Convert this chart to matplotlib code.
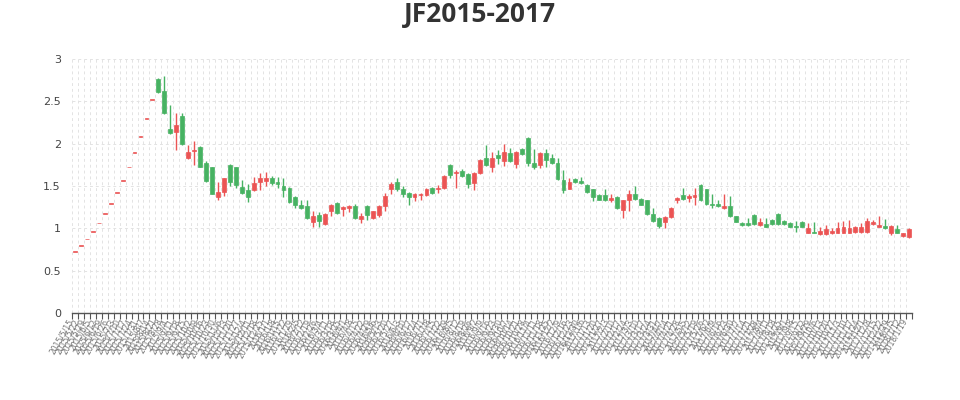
import matplotlib
matplotlib.use('Agg')
import matplotlib.pyplot as plt
import numpy as np
import pandas as pd

# weekly OHLC values
opens = [0.72, 0.79, 0.87, 0.96, 1.06, 1.17, 1.29, 1.42, 1.56, 1.72,
         1.89, 2.08, 2.29, 2.52, 2.76, 2.62, 2.17, 2.14, 2.33, 1.83,
         1.91, 1.96, 1.77, 1.72, 1.37, 1.43, 1.75, 1.72, 1.49, 1.45,
         1.45, 1.55, 1.56, 1.59, 1.55, 1.50, 1.48, 1.37, 1.28, 1.26,
         1.08, 1.16, 1.05, 1.20, 1.30, 1.23, 1.24, 1.26, 1.11, 1.26,
         1.12, 1.16, 1.26, 1.47, 1.55, 1.46, 1.42, 1.37, 1.39, 1.39,
         1.48, 1.46, 1.48, 1.75, 1.65, 1.68, 1.64, 1.54, 1.65, 1.83,
         1.73, 1.87, 1.79, 1.89, 1.76, 1.94, 2.07, 1.77, 1.75, 1.89,
         1.83, 1.77, 1.57, 1.47, 1.58, 1.56, 1.51, 1.46, 1.39, 1.39,
         1.34, 1.37, 1.22, 1.33, 1.40, 1.35, 1.33, 1.17, 1.12, 1.07,
         1.13, 1.34, 1.39, 1.36, 1.37, 1.51, 1.46, 1.29, 1.29, 1.24,
         1.26, 1.14, 1.06, 1.06, 1.16, 1.04, 1.05, 1.10, 1.17, 1.09,
         1.06, 1.03, 1.08, 0.95, 0.96, 0.93, 0.93, 0.95, 0.95, 0.95,
         0.95, 0.96, 0.96, 0.96, 1.05, 1.02, 1.03, 0.95, 0.99, 0.91,
         0.90]
closes = [0.72, 0.79, 0.87, 0.96, 1.06, 1.17, 1.29, 1.42, 1.56, 1.72,
          1.89, 2.08, 2.29, 2.52, 2.61, 2.36, 2.13, 2.22, 2.00, 1.90,
          1.93, 1.73, 1.56, 1.41, 1.43, 1.59, 1.55, 1.51, 1.42, 1.37,
          1.54, 1.59, 1.59, 1.54, 1.52, 1.45, 1.31, 1.28, 1.24, 1.12,
          1.14, 1.09, 1.17, 1.28, 1.18, 1.25, 1.26, 1.12, 1.15, 1.16,
          1.20, 1.26, 1.38, 1.52, 1.46, 1.40, 1.37, 1.40, 1.41, 1.47,
          1.42, 1.48, 1.62, 1.63, 1.67, 1.62, 1.52, 1.65, 1.81, 1.75,
          1.83, 1.83, 1.90, 1.79, 1.90, 1.88, 1.77, 1.73, 1.89, 1.81,
          1.77, 1.58, 1.45, 1.55, 1.55, 1.53, 1.43, 1.37, 1.34, 1.33,
          1.36, 1.24, 1.33, 1.40, 1.35, 1.28, 1.17, 1.09, 1.03, 1.13,
          1.24, 1.36, 1.35, 1.38, 1.39, 1.33, 1.29, 1.27, 1.26, 1.26,
          1.14, 1.08, 1.04, 1.04, 1.05, 1.08, 1.02, 1.05, 1.05, 1.05,
          1.02, 1.02, 1.02, 1.00, 0.95, 0.97, 0.99, 0.97, 1.00, 1.02,
          1.00, 1.01, 1.02, 1.09, 1.07, 1.04, 1.00, 1.03, 0.95, 0.94,
          0.99]
lows = [0.72, 0.79, 0.87, 0.96, 1.06, 1.17, 1.29, 1.42, 1.56, 1.72,
        1.89, 2.08, 2.29, 2.52, 2.60, 2.35, 2.12, 1.93, 1.99, 1.82,
        1.75, 1.72, 1.55, 1.40, 1.34, 1.38, 1.50, 1.48, 1.41, 1.31,
        1.44, 1.45, 1.50, 1.51, 1.48, 1.37, 1.30, 1.24, 1.23, 1.11,
        1.02, 1.02, 1.04, 1.15, 1.17, 1.15, 1.19, 1.11, 1.06, 1.10,
        1.11, 1.13, 1.21, 1.41, 1.44, 1.37, 1.28, 1.32, 1.33, 1.38,
        1.41, 1.42, 1.47, 1.60, 1.48, 1.61, 1.48, 1.45, 1.64, 1.74,
        1.66, 1.76, 1.74, 1.78, 1.71, 1.87, 1.74, 1.70, 1.71, 1.73,
        1.76, 1.57, 1.42, 1.46, 1.54, 1.52, 1.42, 1.32, 1.33, 1.32,
        1.31, 1.23, 1.12, 1.20, 1.34, 1.27, 1.16, 1.08, 1.00, 1.00,
        1.12, 1.30, 1.34, 1.31, 1.27, 1.32, 1.28, 1.24, 1.25, 1.23,
        1.13, 1.07, 1.03, 1.03, 1.04, 1.03, 1.01, 1.04, 1.04, 1.04,
        1.01, 0.96, 1.01, 0.94, 0.94, 0.92, 0.92, 0.93, 0.94, 0.94,
        0.94, 0.95, 0.95, 0.95, 1.04, 1.01, 0.99, 0.92, 0.94, 0.90,
        0.89]
highs = [0.72, 0.79, 0.87, 0.96, 1.06, 1.17, 1.29, 1.42, 1.56, 1.72,
         1.89, 2.08, 2.29, 2.52, 2.77, 2.80, 2.46, 2.36, 2.36, 1.99,
         2.03, 1.97, 1.80, 1.73, 1.55, 1.60, 1.76, 1.73, 1.57, 1.52,
         1.61, 1.65, 1.66, 1.62, 1.61, 1.60, 1.49, 1.38, 1.34, 1.33,
         1.20, 1.19, 1.18, 1.29, 1.31, 1.26, 1.28, 1.29, 1.18, 1.27,
         1.21, 1.27, 1.42, 1.55, 1.59, 1.50, 1.43, 1.42, 1.42, 1.48,
         1.49, 1.51, 1.63, 1.76, 1.69, 1.70, 1.65, 1.66, 1.82, 1.98,
         1.90, 1.93, 2.00, 1.95, 1.91, 1.95, 2.08, 1.94, 1.90, 1.94,
         1.88, 1.83, 1.69, 1.60, 1.59, 1.61, 1.52, 1.47, 1.40, 1.47,
         1.41, 1.38, 1.34, 1.45, 1.50, 1.36, 1.34, 1.24, 1.13, 1.14,
         1.25, 1.37, 1.48, 1.41, 1.48, 1.52, 1.47, 1.41, 1.33, 1.40,
         1.38, 1.15, 1.07, 1.12, 1.17, 1.12, 1.12, 1.11, 1.18, 1.10,
         1.07, 1.09, 1.09, 1.06, 1.08, 1.02, 1.04, 1.00, 1.07, 1.09,
         1.10, 1.03, 1.06, 1.12, 1.10, 1.14, 1.11, 1.04, 1.04, 0.95,
         1.00]

dates = pd.date_range('2015-05-15', periods=len(opens), freq='W-FRI')
labels = [f'{d.year}/{d.month}/{d.day}' for d in dates]

UP = '#eb5454'
DOWN = '#47b262'


def main():
    o = np.array(opens)
    c = np.array(closes)
    lo = np.array(lows)
    hi = np.array(highs)
    x = np.arange(len(o))

    fig = plt.figure(figsize=(9.6, 4), dpi=100)
    ax = fig.add_axes([0.075, 0.2175, 0.875, 0.635])

    # limit-up run has open == close, count those as up
    up = c >= o
    colors = np.where(up, UP, DOWN)

    ax.vlines(x, lo, hi, colors=colors, linewidth=1, zorder=3)
    bottom = np.minimum(o, c)
    height = np.maximum(np.abs(c - o), 0.008)
    ax.bar(x, height, bottom=bottom, width=0.65, color=colors,
           edgecolor=colors, linewidth=0.5, zorder=4)

    ax.set_xlim(-0.5, len(o) - 0.5)
    ax.set_ylim(0, 3)

    # grid and ticks on category boundaries, labels at centres
    ax.set_xticks(np.arange(len(o) + 1) - 0.5, minor=True)
    ax.set_xticks(x)
    ax.set_xticklabels(labels, rotation=60, ha='right', fontsize=5.5,
                       color='#777777')
    ax.tick_params(axis='x', which='major', length=0, pad=3)
    ax.tick_params(axis='x', which='minor', length=4, color='#555555',
                   width=0.8)
    ax.grid(True, which='minor', axis='x', linestyle=(0, (3, 3)),
            color='#e3e3e3', linewidth=0.7)

    ax.set_yticks([0, 0.5, 1, 1.5, 2, 2.5, 3])
    ax.set_yticklabels(['0', '0.5', '1', '1.5', '2', '2.5', '3'])
    ax.tick_params(axis='y', length=0, labelsize=8, labelcolor='#444444',
                   pad=8)
    ax.grid(True, which='major', axis='y', linestyle=(0, (3, 3)),
            color='#e3e3e3', linewidth=0.7)

    for side in ['top', 'right', 'left']:
        ax.spines[side].set_visible(False)
    ax.spines['bottom'].set_color('#555555')
    ax.spines['bottom'].set_linewidth(1)
    ax.set_axisbelow(True)

    fig.text(0.5, 0.963, 'JF2015-2017', ha='center', va='center',
             fontsize=19, fontweight='bold', color='#333333',
             family=['Open Sans', 'DejaVu Sans'])

    fig.savefig('out.png', dpi=100)


if __name__ == "__main__":
    main()
